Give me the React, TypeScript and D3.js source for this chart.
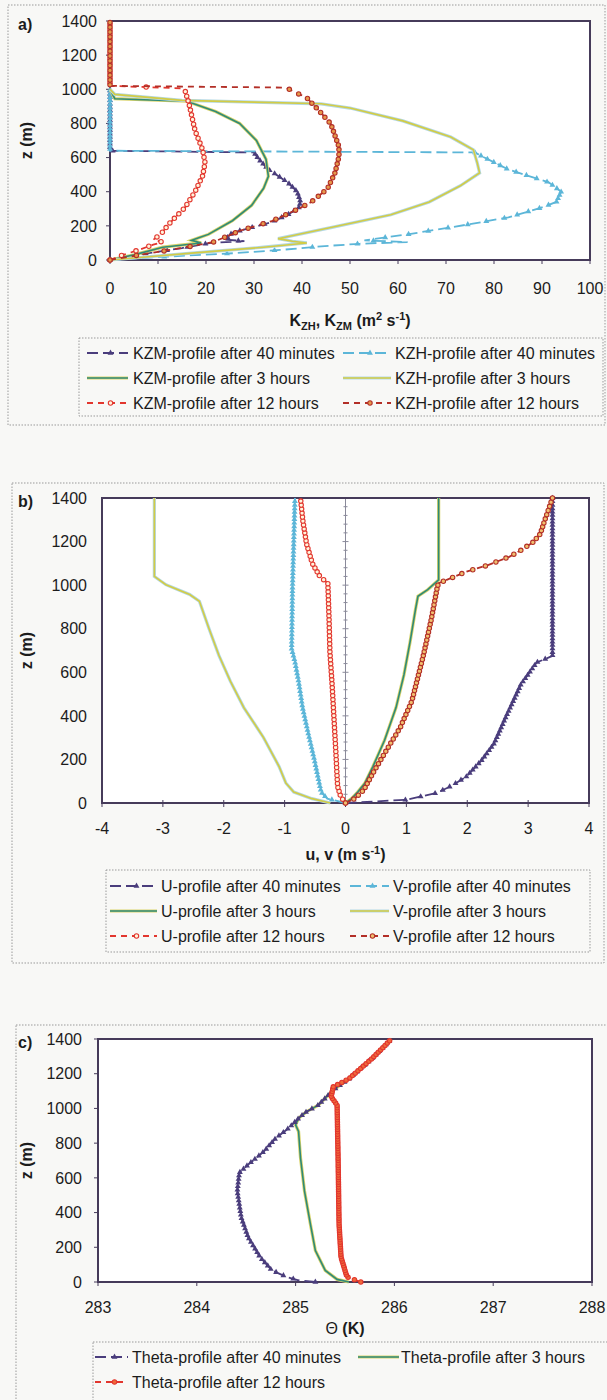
import React, { useEffect, useRef } from 'react';
import * as d3 from 'd3';

const W = 607;
const H = 1400;

// ---- a) eddy diffusivities K (m2 s-1) against height z (m) ----
const aKzm40Z = [0, 20, 40, 70, 100, 110, 120, 160, 190, 220, 265, 305, 340, 400, 455, 530, 590, 630, 640, 1000];
const aKzm40 = [0, 3, 8, 15, 21, 28, 24, 25.5, 29.5, 33.5, 37, 39.3, 39.7, 39, 37, 33, 31, 30, 0, 0];
const aKzh40Z = [0, 20, 40, 60, 80, 95, 105, 115, 150, 210, 250, 305, 340, 400, 455, 530, 600, 630, 640, 1000];
const aKzh40 = [0, 12, 26, 36, 44, 52, 62, 53, 62, 75, 83, 89.7, 93, 94, 91.4, 83, 78, 76, 0, 0];
const aKzm3Z = [0, 30, 75, 100, 115, 130, 150, 230, 320, 420, 490, 590, 700, 800, 870, 930, 945, 1000];
const aKzm3 = [0, 5, 11, 19, 17, 18.5, 20.5, 25.5, 29.5, 32, 33, 32.5, 30.5, 27, 22, 16, 1, 0];
const aKzh3Z = [0, 40, 75, 100, 110, 125, 190, 265, 340, 435, 510, 570, 645, 720, 815, 890, 915, 925, 935, 970, 1000];
const aKzh3 = [0, 17, 32, 41, 38, 35, 46, 58.5, 66.5, 73, 77, 76.5, 75.7, 71, 61, 50, 44, 30, 15, 1, 0];
const aKzm12Z = [0, 28, 57, 90, 105, 118, 155, 212, 307, 400, 493, 570, 645, 760, 910, 1005, 1020, 1400];
const aKzm12 = [0, 2.5, 5.8, 9, 11, 9, 10.7, 12.3, 15.6, 17.7, 19.3, 19.8, 19.3, 17.7, 16.5, 15.5, 0, 0];
const aKzh12Z = [0, 28, 66, 104, 152, 171, 228, 303, 341, 417, 512, 607, 664, 797, 873, 950, 1010, 1020, 1400];
const aKzh12 = [0, 5.8, 14, 21.4, 25.5, 27, 33.7, 39.5, 42, 45.3, 46.9, 47.7, 47.7, 46, 43.6, 41, 36.6, 0, 0];
const aXTicks = [0, 10, 20, 30, 40, 50, 60, 70, 80, 90, 100];
const aLegend = [
  'KZM-profile after 40 minutes', 'KZH-profile after 40 minutes',
  'KZM-profile after 3 hours', 'KZH-profile after 3 hours',
  'KZM-profile after 12 hours', 'KZH-profile after 12 hours',
];

// ---- b) wind components u, v (m s-1) ----
const bU40Z = [0, 15, 46, 80, 122, 197, 272, 392, 543, 645, 675, 1400];
const bU40 = [0, 1.0, 1.5, 1.75, 1.99, 2.24, 2.44, 2.63, 2.88, 3.14, 3.4, 3.4];
const bV40Z = [0, 20, 50, 77, 197, 317, 438, 558, 648, 708, 1000, 1400];
const bV40 = [0, -0.3, -0.4, -0.42, -0.51, -0.61, -0.705, -0.77, -0.83, -0.885, -0.87, -0.83];
const bU3Z = [0, 20, 50, 92, 167, 287, 438, 588, 738, 889, 949, 979, 1024, 1400];
const bU3 = [0, 0.1, 0.2, 0.32, 0.45, 0.64, 0.83, 0.96, 1.06, 1.15, 1.19, 1.35, 1.53, 1.53];
const bV3Z = [0, 20, 50, 92, 167, 302, 438, 558, 678, 799, 926, 957, 1002, 1040, 1400];
const bV3 = [-0.25, -0.55, -0.85, -0.98, -1.09, -1.35, -1.67, -1.89, -2.08, -2.24, -2.4, -2.56, -2.95, -3.14, -3.14];
const bU12Z = [0, 30, 77, 242, 392, 543, 693, 844, 1009, 1039, 1100, 1190, 1295, 1400];
const bU12 = [0, -0.08, -0.13, -0.16, -0.19, -0.22, -0.256, -0.27, -0.29, -0.42, -0.545, -0.64, -0.7, -0.74];
const bV12Z = [0, 20, 60, 137, 227, 347, 468, 678, 844, 994, 1009, 1032, 1062, 1092, 1130, 1160, 1197, 1235, 1295, 1400];
const bV12 = [0, 0.15, 0.3, 0.45, 0.64, 0.9, 1.09, 1.28, 1.41, 1.51, 1.53, 1.73, 1.99, 2.34, 2.69, 2.88, 3.08, 3.2, 3.27, 3.4];
const bXTicks = [-4, -3, -2, -1, 0, 1, 2, 3, 4];
const bLegend = [
  'U-profile after 40 minutes', 'V-profile after 40 minutes',
  'U-profile after 3 hours', 'V-profile after 3 hours',
  'U-profile after 12 hours', 'V-profile after 12 hours',
];

// ---- c) potential temperature (K) ----
const cTh40Z = [0, 10, 29, 67, 143, 257, 371, 524, 629, 676, 752, 829, 886, 943, 981, 1000, 1019, 1105, 1171, 1286, 1400];
const cTh40 = [285.2, 285.03, 284.91, 284.76, 284.64, 284.52, 284.45, 284.41, 284.43, 284.52, 284.68, 284.8, 284.93, 285.03, 285.11, 285.17, 285.23, 285.38, 285.54, 285.77, 285.97];
const cTh3Z = [0, 15, 67, 181, 333, 524, 714, 867, 905, 943, 981, 1019, 1105, 1171, 1286, 1400];
const cTh3 = [285.54, 285.42, 285.3, 285.2, 285.15, 285.09, 285.05, 285.03, 285.0, 285.03, 285.11, 285.23, 285.38, 285.54, 285.77, 285.97];
const cTh12Z = [0, 29, 143, 333, 714, 1019, 1067, 1124, 1171, 1286, 1400];
const cTh12 = [285.66, 285.52, 285.46, 285.44, 285.43, 285.42, 285.36, 285.38, 285.54, 285.77, 285.97];
const cXTicks = [283, 284, 285, 286, 287, 288];
const cLegend = ['Theta-profile after 40 minutes', 'Theta-profile after 3 hours', 'Theta-profile after 12 hours'];

const zTicks = [0, 200, 400, 600, 800, 1000, 1200, 1400];

const FONT = '"Liberation Sans", Arial, sans-serif';
const INK = '#1c1c1c';
const FRAME = '#463b5a';

const PURPLE = '#4a3d7c';
const CYAN = '#5cb6d8';
const TEAL = '#2f8a78';
const YELLOW = '#d3cc45';
const RED = '#e2362e';
const DARKRED = '#b32f27';

type Kind = 'tri' | 'solid' | 'circ';
interface Style { kind: Kind; color: string; halo?: string; fill?: string; step: number; }

const styleM40: Style = { kind: 'tri', color: PURPLE, step: 3.2 };
const styleH40: Style = { kind: 'tri', color: CYAN, step: 3.2 };
const styleM3: Style = { kind: 'solid', color: TEAL, halo: '#d9d36a', step: 0 };
const styleH3: Style = { kind: 'solid', color: YELLOW, halo: '#b4d8e4', step: 0 };
const styleM12: Style = { kind: 'circ', color: RED, fill: '#fff4dc', step: 4.5 };
const styleH12: Style = { kind: 'circ', color: DARKRED, fill: '#e59a4c', step: 4.5 };

const zip = (z: number[], v: number[]) => z.map((zz, i) => ({ z: zz, v: v[i] }));

interface Panel {
  tag: string;
  box: [number, number, number, number];
  l: number; r: number; t: number; b: number;
  xDomain: [number, number];
  xTicks: number[];
  yAxisAt?: number;
  yLabelX: number;
  xLabelY: number;
  titleY: number;
  title: (t: any) => void;
  series: { data: { z: number[]; v: number[] }; style: Style }[];
  legend: { box: [number, number, number, number]; rows: number[]; cols: [number, number, number][]; labels: string[] };
}

const panels: Panel[] = [
  {
    tag: 'a)', box: [8, 5, 597, 420], l: 110, r: 590, t: 21, b: 260, xDomain: [0, 100], xTicks: aXTicks,
    yLabelX: 97, xLabelY: 288, titleY: 320,
    title: (t) => {
      t.append('tspan').text('K');
      t.append('tspan').text('ZH').attr('font-size', 11).attr('dy', 4);
      t.append('tspan').text(', K').attr('dy', -4);
      t.append('tspan').text('ZM').attr('font-size', 11).attr('dy', 4);
      t.append('tspan').text(' (m').attr('dy', -4);
      t.append('tspan').text('2').attr('font-size', 11).attr('dy', -6);
      t.append('tspan').text(' s').attr('dy', 6);
      t.append('tspan').text('-1').attr('font-size', 11).attr('dy', -6);
      t.append('tspan').text(')').attr('dy', 6);
    },
    series: [
      { data: { z: aKzm40Z, v: aKzm40 }, style: styleM40 },
      { data: { z: aKzh40Z, v: aKzh40 }, style: styleH40 },
      { data: { z: aKzm3Z, v: aKzm3 }, style: styleM3 },
      { data: { z: aKzh3Z, v: aKzh3 }, style: styleH3 },
      { data: { z: aKzm12Z, v: aKzm12 }, style: styleM12 },
      { data: { z: aKzh12Z, v: aKzh12 }, style: styleH12 },
    ],
    legend: { box: [79, 338, 524, 78], rows: [353, 378, 403], cols: [[87, 128, 133], [343, 391, 395]], labels: aLegend },
  },
  {
    tag: 'b)', box: [12, 483, 592, 480], l: 102, r: 589, t: 498, b: 803, xDomain: [-4, 4], xTicks: bXTicks, yAxisAt: 0,
    yLabelX: 87, xLabelY: 828, titleY: 854,
    title: (t) => {
      t.append('tspan').text('u, v (m s');
      t.append('tspan').text('-1').attr('font-size', 11).attr('dy', -6);
      t.append('tspan').text(')').attr('dy', 6);
    },
    series: [
      { data: { z: bU40Z, v: bU40 }, style: { ...styleM40, step: 3.2 } },
      { data: { z: bV40Z, v: bV40 }, style: { ...styleH40, step: 3.2 } },
      { data: { z: bU3Z, v: bU3 }, style: styleM3 },
      { data: { z: bV3Z, v: bV3 }, style: styleH3 },
      { data: { z: bU12Z, v: bU12 }, style: { ...styleM12, step: 3.8 } },
      { data: { z: bV12Z, v: bV12 }, style: { ...styleH12, fill: '#f0c070', step: 3.8 } },
    ],
    legend: { box: [106, 870, 484, 82], rows: [886, 911, 936], cols: [[110, 157, 161], [350, 389, 393]], labels: bLegend },
  },
  {
    tag: 'c)', box: [16, 1025, 600, 400], l: 98, r: 592, t: 1039, b: 1282, xDomain: [283, 288], xTicks: cXTicks,
    yLabelX: 82, xLabelY: 1307, titleY: 1328,
    title: (t) => {
      t.append('tspan').text('\u0398 ').attr('font-weight', 'normal');
      t.append('tspan').text('(K)');
    },
    series: [
      { data: { z: cTh3Z, v: cTh3 }, style: styleM3 },
      { data: { z: cTh40Z, v: cTh40 }, style: { ...styleM40, step: 3.2 } },
      { data: { z: cTh12Z, v: cTh12 }, style: { ...styleH12, color: RED, fill: '#ef6a3a', step: 2.2 } },
    ],
    legend: { box: [93, 1342, 520, 60], rows: [1357, 1382], cols: [[95, 128, 132], [358, 399, 401]], labels: cLegend },
  },
];

function drawMarker(g: any, s: Style, x: number, y: number) {
  if (s.kind === 'tri') {
    g.append('path')
      .attr('d', d3.symbol(d3.symbolTriangle, 15)())
      .attr('transform', `translate(${x},${y})`)
      .attr('fill', s.color);
  } else if (s.kind === 'circ') {
    g.append('circle').attr('cx', x).attr('cy', y).attr('r', 2.2)
      .attr('fill', s.fill).attr('stroke', s.color).attr('stroke-width', 1.1);
  }
}

function drawLine(g: any, s: Style, d: string) {
  if (s.kind === 'solid') {
    g.append('path').attr('d', d).attr('fill', 'none').attr('stroke', s.halo).attr('stroke-width', 3.2);
    g.append('path').attr('d', d).attr('fill', 'none').attr('stroke', s.color).attr('stroke-width', 1.6);
    return null;
  }
  return g.append('path').attr('d', d).attr('fill', 'none').attr('stroke', s.color)
    .attr('stroke-width', 1.8)
    .attr('stroke-dasharray', s.kind === 'tri' ? '11,5' : '6,5');
}

function drawPanel(svg: any, p: Panel) {
  const g = svg.append('g');
  const x = d3.scaleLinear().domain(p.xDomain).range([p.l, p.r]);
  const y = d3.scaleLinear().domain([0, 1400]).range([p.b, p.t]);

  g.append('rect').attr('x', p.box[0]).attr('y', p.box[1]).attr('width', p.box[2]).attr('height', p.box[3])
    .attr('fill', 'none').attr('stroke', '#9a9a9a').attr('stroke-dasharray', '1.5,1.5');

  g.append('rect').attr('x', p.l).attr('y', p.t).attr('width', p.r - p.l).attr('height', p.b - p.t).attr('fill', '#ffffff');

  // y ticks and labels
  const ax = p.yAxisAt !== undefined ? x(p.yAxisAt) : p.l;
  if (p.yAxisAt !== undefined) {
    g.append('line').attr('x1', ax).attr('x2', ax).attr('y1', p.t).attr('y2', p.b).attr('stroke', '#8a8a9a').attr('stroke-width', 1);
    d3.range(0, 1401, 40).forEach((z) => {
      const big = z % 200 === 0;
      g.append('line').attr('x1', ax - (big ? 3 : 2)).attr('x2', ax + (big ? 3 : 2)).attr('y1', y(z)).attr('y2', y(z))
        .attr('stroke', '#8a8a9a').attr('stroke-width', 1);
    });
  } else {
    zTicks.forEach((z) => {
      g.append('line').attr('x1', p.l - 4).attr('x2', p.l).attr('y1', y(z)).attr('y2', y(z)).attr('stroke', FRAME).attr('stroke-width', 1);
    });
  }
  zTicks.forEach((z) => {
    g.append('text').attr('x', p.yLabelX).attr('y', y(z)).attr('dy', '0.36em').attr('text-anchor', 'end')
      .attr('font-family', FONT).attr('font-size', 16).attr('fill', INK).text(z);
  });

  // x ticks and labels
  p.xTicks.forEach((v) => {
    g.append('line').attr('x1', x(v)).attr('x2', x(v)).attr('y1', p.b - (p.yAxisAt !== undefined ? 3 : 0)).attr('y2', p.b + 4)
      .attr('stroke', FRAME).attr('stroke-width', 1);
    g.append('text').attr('x', x(v)).attr('y', p.xLabelY).attr('dy', '0.36em').attr('text-anchor', 'middle')
      .attr('font-family', FONT).attr('font-size', 16).attr('fill', INK).text(v);
  });

  g.append('rect').attr('x', p.l).attr('y', p.t).attr('width', p.r - p.l).attr('height', p.b - p.t)
    .attr('fill', 'none').attr('stroke', FRAME).attr('stroke-width', 2);

  // profiles; markers are placed along the drawn path, one per vertical step
  const line = d3.line<{ z: number; v: number }>().x((d) => x(d.v)).y((d) => y(d.z));
  p.series.forEach(({ data, style }) => {
    const sg = g.append('g');
    const path = drawLine(sg, style, line(zip(data.z, data.v)) as string);
    if (path && style.step > 0) {
      const node = path.node() as SVGPathElement;
      const len = node.getTotalLength();
      let lastY: number | null = null;
      for (let s = 0; s <= len; s += 0.4) {
        const pt = node.getPointAtLength(s);
        if (lastY === null || Math.abs(pt.y - lastY) >= style.step) {
          drawMarker(sg, style, pt.x, pt.y);
          lastY = pt.y;
        }
      }
    }
  });

  // labels
  g.append('text').attr('x', 18).attr('y', p.t + 3).attr('dy', '0.36em').attr('font-family', FONT)
    .attr('font-size', 16).attr('font-weight', 'bold').attr('fill', INK).text(p.tag);
  g.append('text').attr('transform', `translate(26,${(p.t + p.b) / 2}) rotate(-90)`).attr('text-anchor', 'middle')
    .attr('dy', '0.36em').attr('font-family', FONT).attr('font-size', 16).attr('font-weight', 'bold').attr('fill', INK)
    .text('z (m)');
  const title = g.append('text').attr('x', (p.l + p.r) / 2).attr('y', p.titleY).attr('dy', '0.36em')
    .attr('text-anchor', 'middle').attr('font-family', FONT).attr('font-size', 16).attr('font-weight', 'bold').attr('fill', INK);
  p.title(title);

  // legend
  const lg = p.legend;
  g.append('rect').attr('x', lg.box[0]).attr('y', lg.box[1]).attr('width', lg.box[2]).attr('height', lg.box[3])
    .attr('fill', 'none').attr('stroke', '#9a9a9a').attr('stroke-dasharray', '1.5,1.5');
  lg.labels.forEach((label, i) => {
    const row = lg.rows[Math.floor(i / 2)];
    const [x1, x2, tx] = lg.cols[i % 2];
    const style = p.series[p.series.length === 3 ? [1, 0, 2][i] : i].style;
    const sg = g.append('g');
    drawLine(sg, style, `M${x1},${row}L${x2},${row}`);
    if (style.kind !== 'solid') drawMarker(sg, style, (x1 + x2) / 2 + 3, row);
    sg.append('text').attr('x', tx).attr('y', row).attr('dy', '0.36em').attr('font-family', FONT)
      .attr('font-size', 16).attr('fill', INK).text(label);
  });
}

export default function App() {
  const ref = useRef<SVGSVGElement>(null);

  useEffect(() => {
    if (!ref.current) return;
    const svg = d3.select(ref.current);
    svg.selectAll('*').remove();
    svg.append('rect').attr('width', W).attr('height', H).attr('fill', '#f8f8f6');
    panels.forEach((p) => drawPanel(svg, p));
  }, []);

  return (
    <svg ref={ref} width={W} height={H} style={{ position: 'absolute', left: 0, top: 0, display: 'block' }} />
  );
}
